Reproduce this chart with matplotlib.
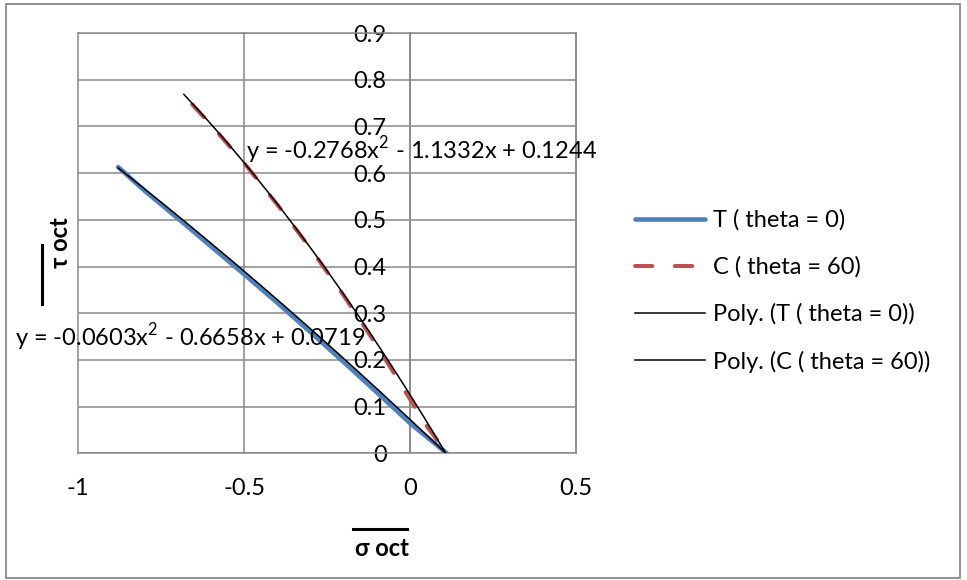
import numpy as np
import matplotlib
matplotlib.use("Agg")
import matplotlib.pyplot as plt
from matplotlib.lines import Line2D
from matplotlib.patches import Rectangle

plt.rcParams['font.family'] = ['Lato', 'DejaVu Sans']
plt.rcParams['mathtext.fontset'] = 'custom'
plt.rcParams['mathtext.rm'] = 'Lato'

# Octahedral stress paths
sigma_t = [-0.88, -0.8, -0.7, -0.6, -0.5, -0.4, -0.3, -0.2, -0.1, 0.0, 0.11]
tau_t = [0.613, 0.562, 0.503, 0.443, 0.383, 0.322, 0.259, 0.195, 0.130, 0.064, 0.0]

sigma_c = [-0.657, -0.6, -0.5, -0.4, -0.3, -0.2, -0.1, 0.0, 0.05, 0.11]
tau_c = [0.747, 0.703, 0.621, 0.532, 0.438, 0.337, 0.230, 0.115, 0.058, 0.0]

# Second-order polynomial trendlines (a, b, c)
poly_t = [-0.0603, -0.6658, 0.0719]
poly_c = [-0.2768, -1.1332, 0.1244]
backward_c = 0.025  # backward forecast of the C trendline

labels = ["T ( theta = 0)", "C ( theta = 60)",
          "Poly. (T ( theta = 0))", "Poly. (C ( theta = 60))"]
x_ticks = [-1, -0.5, 0, 0.5]
y_ticks = [0, 0.1, 0.2, 0.3, 0.4, 0.5, 0.6, 0.7, 0.8, 0.9]

W, H = 967, 580
FS = 17
fig = plt.figure(figsize=(W / 100, H / 100), dpi=100)

def fx(px):
    return px / W

def fy(py):
    return 1 - py / H

GRAY = '#898989'
BLUE = '#4F81BD'
RED = '#C0504D'

ax = fig.add_axes([fx(78.3), fy(453.3), fx(576.3) - fx(78.3), fy(33) - fy(453.3)])
ax.set_xlim(-1, 0.5)
ax.set_ylim(0, 0.9)
ax.set_xticks(x_ticks)
ax.set_xticklabels(["-1", "-0.5", "0", "0.5"])
ax.set_yticks(y_ticks)
ax.set_yticklabels(["0", "0.1", "0.2", "0.3", "0.4", "0.5", "0.6", "0.7", "0.8", "0.9"])
ax.grid(True, color=GRAY, lw=1.1)
ax.set_axisbelow(True)
for gl in ax.get_xgridlines() + ax.get_ygridlines():
    gl.set_clip_on(False)
for s in ax.spines.values():
    s.set_color(GRAY)
    s.set_linewidth(1.1)
ax.spines['left'].set_position(('data', 0))
ax.tick_params(length=0, labelsize=FS, colors='black')
ax.tick_params(axis='y', pad=17)
ax.tick_params(axis='x', pad=18)

lt, = ax.plot(sigma_t, tau_t, color=BLUE, lw=3.3, solid_capstyle='round',
              solid_joinstyle='round', zorder=3)
lc, = ax.plot(sigma_c, tau_c, color=RED, lw=2.9, dashes=(4.3, 5.6),
              dash_capstyle='round', zorder=3)

xt = np.linspace(min(sigma_t), max(sigma_t), 200)
xc = np.linspace(min(sigma_c) - backward_c, max(sigma_c), 200)
ft, = ax.plot(xt, np.polyval(poly_t, xt), color='black', lw=1.1, zorder=4)
fc, = ax.plot(xc, np.polyval(poly_c, xc), color='black', lw=1.1, zorder=4)

def eq_text(p):
    a, b, c = p
    return "y = {:.4f}x$^{{2}}$ - {:.4f}x + {:.4f}".format(a, abs(b), c)

fig.text(fx(15), fy(337), eq_text(poly_t), fontsize=FS, ha='left', va='center')
fig.text(fx(246), fy(150), eq_text(poly_c), fontsize=FS, ha='left', va='center')

leg = ax.legend([lt, lc, ft, fc], labels, loc='center left',
                bbox_to_anchor=(fx(635), fy(291)), bbox_transform=fig.transFigure,
                frameon=False, fontsize=FS, handlelength=2.97, handletextpad=0.34,
                labelspacing=1.07, borderpad=0, borderaxespad=0)

# Axis titles with overbars
fig.text(fx(382), fy(549), "σ oct", fontsize=FS, fontweight='bold',
         ha='center', va='center')
fig.add_artist(Line2D([fx(353), fx(407)], [fy(529), fy(529)],
                      transform=fig.transFigure, color='black', lw=2.2))
fig.text(fx(61), fy(243), "τ oct", fontsize=FS, fontweight='bold',
         ha='center', va='center', rotation=90)
fig.add_artist(Line2D([fx(42), fx(42)], [fy(245), fy(304)],
                      transform=fig.transFigure, color='black', lw=2.2))

# Chart border
fig.add_artist(Rectangle((fx(6), fy(578)), fx(960) - fx(6), fy(4) - fy(578),
                         transform=fig.transFigure, fill=False,
                         edgecolor=GRAY, lw=1.3))

fig.savefig("out.png", dpi=100)
